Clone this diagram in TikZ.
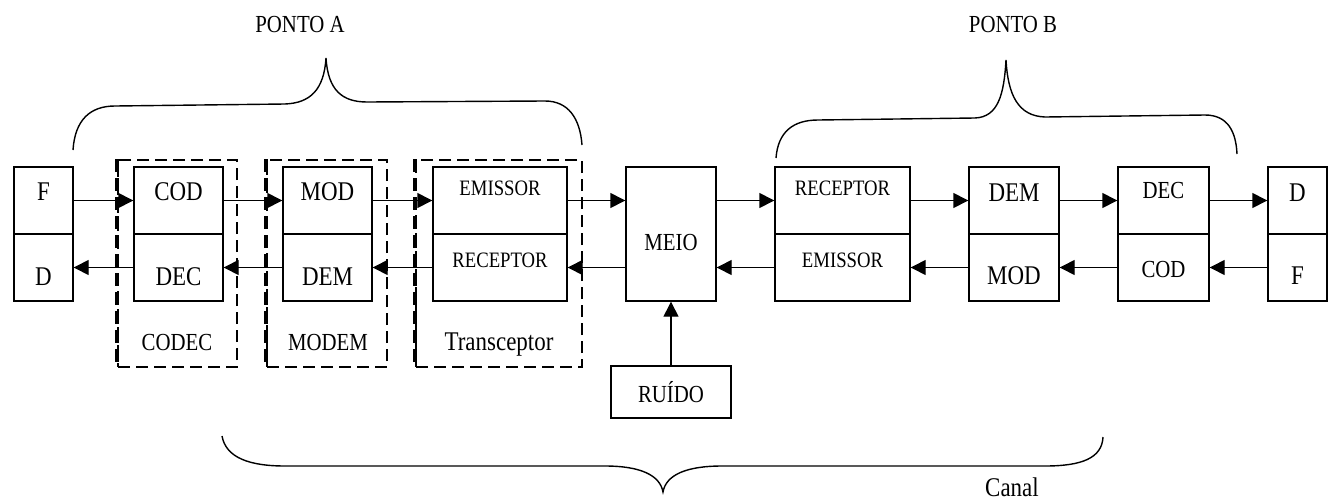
\documentclass[tikz,border=0pt]{standalone}
\usepackage{fontspec}
\setmainfont[FakeStretch=0.85]{Liberation Serif}
\usetikzlibrary{arrows.meta}
\tikzset{lg/.style={font=\fontsize{27}{27}\selectfont}}
\tikzset{md/.style={font=\fontsize{24.5}{24.5}\selectfont}}
\tikzset{sm/.style={font=\fontsize{22}{22}\selectfont}}
\tikzset{half/.style={draw,minimum width=#1,minimum height=67pt,inner sep=0pt}}
\tikzset{grp/.style={draw,line width=2pt,dash pattern=on 12pt off 6pt,minimum height=207pt,inner sep=0pt}}
\tikzset{thk/.style={line width=3.5pt,dash pattern=on 13pt off 6pt}}
\begin{document}
\begin{tikzpicture}[x=1pt,y=-1pt,line width=1.4pt,>={Triangle[length=15pt,width=15pt]}]
  \useasboundingbox (0,0) rectangle (1328,501);
  \node[grp,minimum width=119pt] (codec) at (177.5,263.5) {};
  \node[grp,minimum width=120pt] (modem) at (327,263.5) {};
  \node[grp,minimum width=166pt] (trans) at (499,263.5) {};
  \draw[thk] (codec.north west) -- (codec.south west);
  \draw[thk] (modem.north west) -- (modem.south west);
  \draw[thk] (trans.north west) -- (trans.south west);

  \node[half=59pt] (fT) at (43.5,200.5) {};
  \node[half=59pt] (dB) at (43.5,267.5) {};
  \node[half=89pt] (codT) at (178.5,200.5) {}
    edge [<-] (fT);
  \node[half=89pt] (decB) at (178.5,267.5) {}
    edge [->] (dB);
  \node[half=89pt] (modT) at (327.5,200.5) {}
    edge [<-] (codT);
  \node[half=89pt] (demB) at (327.5,267.5) {}
    edge [->] (decB);
  \node[half=134pt] (emT) at (500,200.5) {}
    edge [<-] (modT);
  \node[half=134pt] (recB) at (500,267.5) {}
    edge [->] (demB);
  \node[draw,minimum width=90pt,minimum height=134pt,inner sep=0pt] (meio) at (671,234) {};
  \node[half=135pt] (rrecT) at (842.5,200.5) {};
  \node[half=135pt] (remiB) at (842.5,267.5) {};
  \node[half=90pt] (rdemT) at (1014,200.5) {}
    edge [<-] (rrecT);
  \node[half=90pt] (rmodB) at (1014,267.5) {}
    edge [->] (remiB);
  \node[half=91pt] (rdecT) at (1163.5,200.5) {}
    edge [<-] (rdemT);
  \node[half=91pt] (rcodB) at (1163.5,267.5) {}
    edge [->] (rmodB);
  \node[half=59pt] (rdT) at (1297.5,200.5) {}
    edge [<-] (rdecT);
  \node[half=59pt] (rfB) at (1297.5,267.5) {}
    edge [->] (rcodB);
  \node[draw,md,minimum width=120pt,minimum height=52pt,inner sep=0pt] (ruido) at (671,392) {RUÍDO}
    edge [->] (meio);

  \draw[->] (emT) -- (emT -| meio.west);
  \draw[->] (rrecT -| meio.east) -- (rrecT);
  \draw[->] (remiB) -- (remiB -| meio.east);
  \draw[->] (recB -| meio.west) -- (recB);

  \node[lg] (tF) at (43.5,192) {F};
  \node[lg] (tD) at (43.5,277) {D};
  \node[lg] (tCod) at (178.5,192) {COD};
  \node[lg] (tDec) at (178.5,277) {DEC};
  \node[lg] (tMod) at (327.5,192) {MOD};
  \node[lg] (tDem) at (327.5,277) {DEM};
  \node[sm] (tEmi) at (500,188) {EMISSOR};
  \node[sm] (tRec) at (500,260) {RECEPTOR};
  \node[md] (tMeio) at (671,243) {MEIO};
  \node[sm] (tRrec) at (842.5,188) {RECEPTOR};
  \node[sm] (tRemi) at (842.5,260) {EMISSOR};
  \node[lg] (tRdem) at (1014,193) {DEM};
  \node[lg] (tRmod) at (1014,276) {MOD};
  \node[md] (tRdec) at (1163.5,191) {DEC};
  \node[md] (tRcod) at (1163.5,270) {COD};
  \node[lg] (tRd) at (1297.5,193) {D};
  \node[lg] (tRf) at (1297.5,276) {F};

  \node[md] (tCodec) at (177,343) {CODEC};
  \node[md] (tModem) at (328,343) {MODEM};
  \node[lg] (tTrans) at (499,345) {Transceptor};
  \node[md] (pA) at (300,25) {PONTO A};
  \node[md] (pB) at (1013,25) {PONTO B};
  \node[lg] (canal) at (1012,487) {Canal};

  \draw (73,150) .. controls (75,120) and (90,106) .. (115,106) -- (285,104)
    .. controls (310,103) and (324,90) .. (326,58)
    .. controls (328,90) and (342,102) .. (367,102) -- (545,101)
    .. controls (568,101) and (580,118) .. (582,145);
  \draw (776,158) .. controls (778,132) and (793,120) .. (818,120) -- (975,118)
    .. controls (998,117) and (1004,95) .. (1006,60)
    .. controls (1008,95) and (1018,116) .. (1045,117) -- (1205,115)
    .. controls (1228,115) and (1236,132) .. (1237,154);
  \draw (222,436) .. controls (226,458) and (250,466) .. (285,466) -- (605,466)
    .. controls (640,466) and (660,475) .. (663,492)
    .. controls (666,475) and (686,466) .. (722,466) -- (1045,466)
    .. controls (1082,466) and (1102,458) .. (1103,437);
\end{tikzpicture}
\end{document}
